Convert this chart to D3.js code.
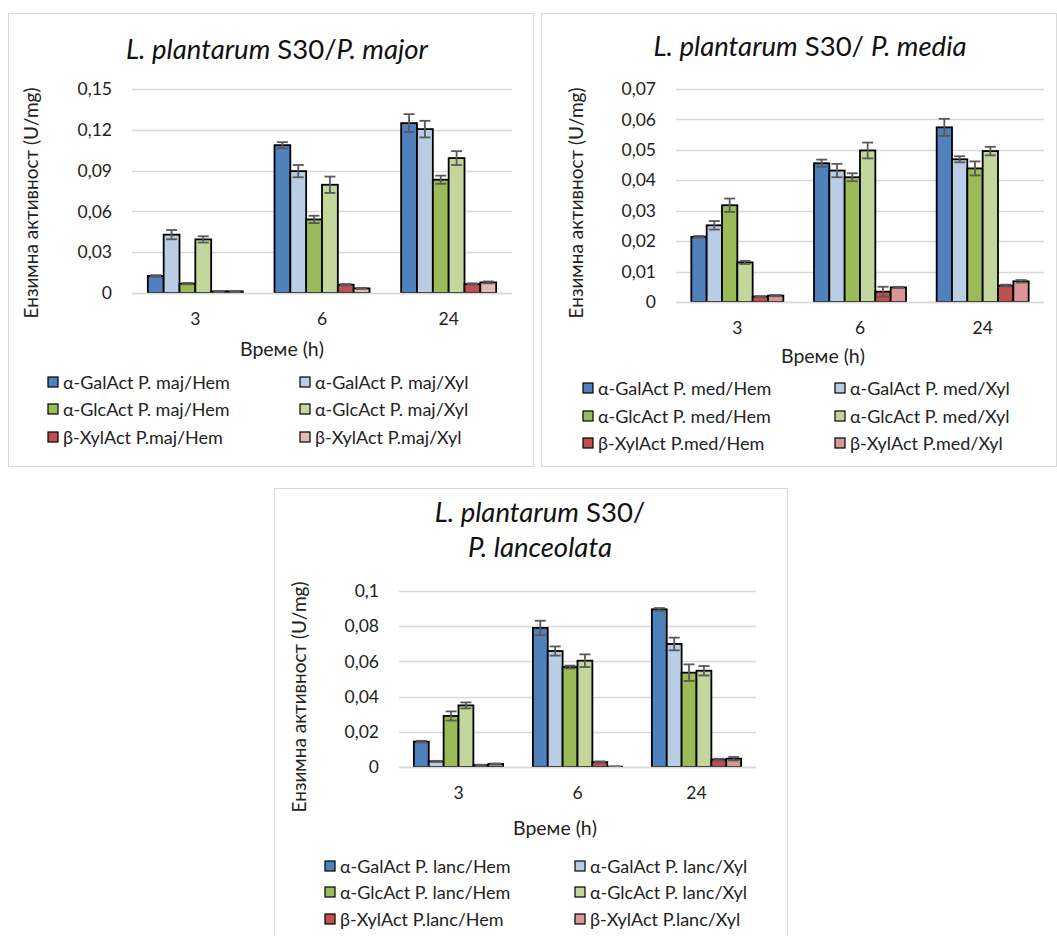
<!DOCTYPE html>
<html><head><meta charset="utf-8">
<script src="https://cdn.jsdelivr.net/npm/d3@7"></script>
<style>
body{margin:0;background:#fff;}
svg{display:block;font-family:Lato, "Open Sans", sans-serif;}
</style></head>
<body>
<svg id="chart" width="1057" height="936"></svg>
<script>
// ---------- DATA ----------
const categories = ["3", "6", "24"];

// Panel 1: P. major
const majSeriesNames = ["α-GalAct P. maj/Hem","α-GalAct P. maj/Xyl","α-GlcAct P. maj/Hem","α-GlcAct P. maj/Xyl","β-XylAct P.maj/Hem","β-XylAct P.maj/Xyl"];
const majGalHem = [0.0125, 0.1087, 0.1249];
const majGalXyl = [0.0429, 0.0896, 0.1205];
const majGlcHem = [0.0069, 0.0541, 0.0833];
const majGlcXyl = [0.0394, 0.0796, 0.0992];
const majXylHem = [0.0012, 0.0061, 0.0066];
const majXylXyl = [0.0012, 0.0034, 0.0078];
const majErrGalHem = [0.0006, 0.0022, 0.0066];
const majErrGalXyl = [0.0034, 0.0045, 0.0061];
const majErrGlcHem = [0.0005, 0.0027, 0.0030];
const majErrGlcXyl = [0.0023, 0.0060, 0.0051];
const majErrXylHem = [0.0002, 0.0005, 0.0005];
const majErrXylXyl = [0.0002, 0.0004, 0.0007];
const majTicks = [0, 0.03, 0.06, 0.09, 0.12, 0.15];

// Panel 2: P. media
const medSeriesNames = ["α-GalAct P. med/Hem","α-GalAct P. med/Xyl","α-GlcAct P. med/Hem","α-GlcAct P. med/Xyl","β-XylAct P.med/Hem","β-XylAct P.med/Xyl"];
const medGalHem = [0.0214, 0.0456, 0.0574];
const medGalXyl = [0.0252, 0.0432, 0.0469];
const medGlcHem = [0.0318, 0.0410, 0.0439];
const medGlcXyl = [0.0130, 0.0498, 0.0496];
const medXylHem = [0.0018, 0.0034, 0.0054];
const medXylXyl = [0.0021, 0.0048, 0.0068];
const medErrGalHem = [0.0003, 0.0012, 0.0028];
const medErrGalXyl = [0.0014, 0.0022, 0.0010];
const medErrGlcHem = [0.0022, 0.0013, 0.0023];
const medErrGlcXyl = [0.0005, 0.0026, 0.0014];
const medErrXylHem = [0.0001, 0.0016, 0.0003];
const medErrXylXyl = [0.0002, 0.0002, 0.0004];
const medTicks = [0, 0.01, 0.02, 0.03, 0.04, 0.05, 0.06, 0.07];

// Panel 3: P. lanceolata
const lancSeriesNames = ["α-GalAct P. lanc/Hem","α-GalAct P. lanc/Xyl","α-GlcAct P. lanc/Hem","α-GlcAct P. lanc/Xyl","β-XylAct P.lanc/Hem","β-XylAct P.lanc/Xyl"];
const lancGalHem = [0.0144, 0.0790, 0.0896];
const lancGalXyl = [0.0032, 0.0659, 0.0699];
const lancGlcHem = [0.0290, 0.0568, 0.0536];
const lancGlcXyl = [0.0350, 0.0604, 0.0547];
const lancXylHem = [0.0011, 0.0028, 0.0042];
const lancXylXyl = [0.0017, 0.0002, 0.0047];
const lancErrGalHem = [0.0005, 0.0041, 0.0007];
const lancErrGalXyl = [0.0003, 0.0026, 0.0036];
const lancErrGlcHem = [0.0026, 0.0008, 0.0047];
const lancErrGlcXyl = [0.0017, 0.0036, 0.0027];
const lancErrXylHem = [0.0002, 0.0004, 0.0005];
const lancErrXylXyl = [0.0003, 0.0001, 0.0010];
const lancTicks = [0, 0.02, 0.04, 0.06, 0.08, 0.1];

const colorsMaj = ["#4F81BD","#B9CDE5","#9BBB59","#C3D69B","#C0504D","#E6B9B8"];
const colorsOther = ["#4F81BD","#B9CDE5","#9BBB59","#C3D69B","#C0504D","#D99694"];

const yTitle = "Ензимна активност (U/mg)";
const xTitle = "Време (h)";

// ---------- DRAW ----------
const svg = d3.select("#chart");
const fmt = v => v === 0 ? "0" : d3.format(".2f")(v).replace(".", ",").replace(/^0,(\d)0$/, "0,$1");

function drawPanel(cfg) {
  const g = svg.append("g");
  g.append("rect").attr("x", cfg.box[0] + 0.5).attr("y", cfg.box[1] + 0.5)
    .attr("width", cfg.box[2]).attr("height", cfg.box[3])
    .attr("fill", "#fff").attr("stroke", "#D9D9D9").attr("stroke-width", 1);

  const x = d3.scaleBand().domain(categories).range([cfg.plot[0], cfg.plot[1]])
    .paddingInner(0.25).paddingOuter(0.125);
  const xs = d3.scaleBand().domain(d3.range(cfg.series.length)).range([0, x.bandwidth()]);
  const y = d3.scaleLinear().domain([0, cfg.ticks[cfg.ticks.length - 1]]).range([cfg.plot[3], cfg.plot[2]]);

  // gridlines
  g.append("g").selectAll("line").data(cfg.ticks).join("line")
    .attr("x1", cfg.plot[0]).attr("x2", cfg.plot[1])
    .attr("y1", d => Math.round(y(d)) + 0.5).attr("y2", d => Math.round(y(d)) + 0.5)
    .attr("stroke", "#D9D9D9").attr("stroke-width", 1.5);

  // y axis via d3 axis (labels only)
  const ya = g.append("g").attr("transform", `translate(${cfg.plot[0]},0)`)
    .call(d3.axisLeft(y).tickValues(cfg.ticks).tickFormat(fmt).tickSize(0).tickPadding(cfg.tickPad));
  ya.select(".domain").remove();
  ya.selectAll("text").attr("font-size", 17.5).attr("fill", "#222").attr("font-family", "Lato, sans-serif");

  // x axis labels
  const xa = g.append("g").attr("transform", `translate(0,${cfg.plot[3]})`)
    .call(d3.axisBottom(x).tickSize(0).tickPadding(cfg.catPad));
  xa.select(".domain").remove();
  xa.selectAll("text").attr("font-size", 17.5).attr("fill", "#222").attr("font-family", "Lato, sans-serif");

  // bars
  cfg.series.forEach((vals, si) => {
    const sg = g.append("g");
    sg.selectAll("rect").data(vals).join("rect")
      .attr("x", (d, i) => x(categories[i]) + xs(si))
      .attr("y", d => y(d))
      .attr("width", xs.bandwidth())
      .attr("height", d => y(0) - y(d))
      .attr("fill", cfg.colors[si]).attr("stroke", "#000").attr("stroke-width", 1.8);
  });
  // error bars
  cfg.series.forEach((vals, si) => {
    const eg = g.append("g").attr("stroke", "#595959").attr("stroke-width", 1.8).attr("fill", "none");
    vals.forEach((v, i) => {
      const e = cfg.errors[si][i];
      const cx = x(categories[i]) + xs(si) + xs.bandwidth() / 2;
      const lo = Math.max(0, v - e), hi = v + e;
      eg.append("line").attr("x1", cx).attr("x2", cx).attr("y1", y(lo)).attr("y2", y(hi));
      eg.append("line").attr("x1", cx - 5.5).attr("x2", cx + 5.5).attr("y1", y(hi)).attr("y2", y(hi));
      eg.append("line").attr("x1", cx - 5.5).attr("x2", cx + 5.5).attr("y1", y(lo)).attr("y2", y(lo));
    });
  });
  // baseline
  g.append("line").attr("x1", cfg.plot[0]).attr("x2", cfg.plot[1])
    .attr("y1", Math.round(y(0)) + 0.5).attr("y2", Math.round(y(0)) + 0.5)
    .attr("stroke", "#D9D9D9").attr("stroke-width", 1.5);

  // title
  cfg.title.forEach((line, li) => {
    const t = g.append("text").attr("x", cfg.titlePos[0]).attr("y", cfg.titlePos[1] + li * cfg.titleLineH)
      .attr("text-anchor", "middle").attr("font-size", 27.5).attr("fill", "#111");
    line.forEach(part => {
      t.append("tspan").text(part[0]).attr("font-style", part[1] ? "italic" : "normal");
    });
  });

  // y title
  g.append("text").attr("transform", `translate(${cfg.yTitlePos[0]},${cfg.yTitlePos[1]}) rotate(-90)`)
    .attr("text-anchor", "middle").attr("dominant-baseline", "central")
    .attr("font-size", 19).attr("fill", "#222").text(yTitle);
  // x title
  g.append("text").attr("x", cfg.xTitlePos[0]).attr("y", cfg.xTitlePos[1])
    .attr("text-anchor", "middle").attr("dominant-baseline", "central")
    .attr("font-size", 19.5).attr("fill", "#222").text(xTitle);

  // legend
  cfg.names.forEach((name, i) => {
    const col = i % 2, row = Math.floor(i / 2);
    const lx = cfg.legCols[col], ly = cfg.legRows[row];
    g.append("rect").attr("x", lx).attr("y", ly - 5).attr("width", 10).attr("height", 10)
      .attr("fill", cfg.colors[i]).attr("stroke", "#000").attr("stroke-width", 1.2);
    g.append("text").attr("x", lx + 15).attr("y", ly).attr("dominant-baseline", "central")
      .attr("font-size", 18).attr("fill", "#222").text(name);
  });
}

drawPanel({
  box: [8, 13, 525, 453],
  plot: [132, 512, 89, 293],
  ticks: majTicks, tickPad: 20, catPad: 20,
  series: [majGalHem, majGalXyl, majGlcHem, majGlcXyl, majXylHem, majXylXyl],
  errors: [majErrGalHem, majErrGalXyl, majErrGlcHem, majErrGlcXyl, majErrXylHem, majErrXylXyl],
  colors: colorsMaj, names: majSeriesNames,
  title: [[["L. plantarum", true], [" S30/", false], ["P. major", true]]],
  titlePos: [277, 59], titleLineH: 0,
  yTitlePos: [30, 203], xTitlePos: [282, 348],
  legCols: [48, 300], legRows: [382, 409, 437]
});

drawPanel({
  box: [541, 13, 515, 453],
  plot: [676, 1044, 89, 302],
  ticks: medTicks, tickPad: 20, catPad: 20,
  series: [medGalHem, medGalXyl, medGlcHem, medGlcXyl, medXylHem, medXylXyl],
  errors: [medErrGalHem, medErrGalXyl, medErrGlcHem, medErrGlcXyl, medErrXylHem, medErrXylXyl],
  colors: colorsOther, names: medSeriesNames,
  title: [[["L. plantarum", true], [" S30/ ", false], ["P. media", true]]],
  titlePos: [810, 56], titleLineH: 0,
  yTitlePos: [575, 203], xTitlePos: [823, 355],
  legCols: [583, 835], legRows: [388, 416, 443]
});

drawPanel({
  box: [274, 488, 513, 460],
  plot: [399, 756, 591, 767],
  ticks: lancTicks, tickPad: 20, catPad: 20,
  series: [lancGalHem, lancGalXyl, lancGlcHem, lancGlcXyl, lancXylHem, lancXylXyl],
  errors: [lancErrGalHem, lancErrGalXyl, lancErrGlcHem, lancErrGlcXyl, lancErrXylHem, lancErrXylXyl],
  colors: colorsOther, names: lancSeriesNames,
  title: [[["L. plantarum", true], [" S30/", false]], [["P. lanceolata", true]]],
  titlePos: [540, 522], titleLineH: 35,
  yTitlePos: [298, 697], xTitlePos: [555, 827],
  legCols: [325, 575], legRows: [866, 892, 919]
});
</script>
</body></html>
